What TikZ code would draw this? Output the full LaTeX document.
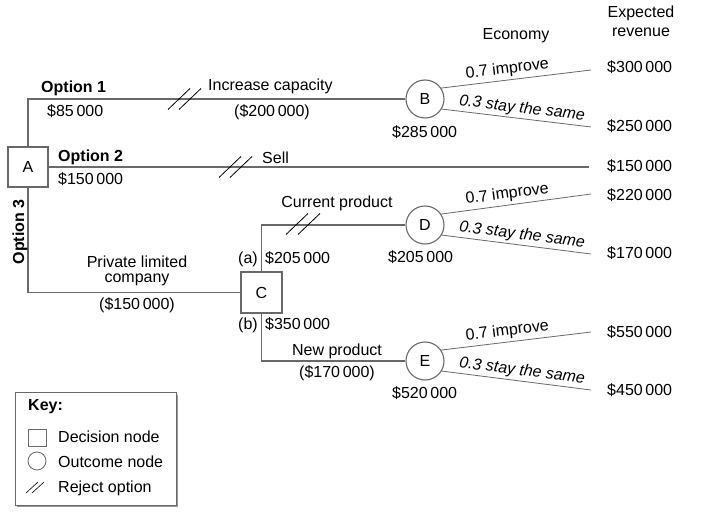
\documentclass[tikz,border=0pt]{standalone}
\usepackage{fontspec}
\setmainfont{Liberation Sans}
\definecolor{linegray}{RGB}{105,105,105}
\definecolor{shadowgray}{RGB}{150,150,150}
\begin{document}
\begin{tikzpicture}[x=1pt,y=-1pt,
  every node/.style={font=\fontsize{16}{19}\selectfont, inner sep=0pt},
  ln/.style={draw=linegray, line width=1.1pt},
  decbox/.style={draw=linegray, line width=1.1pt, minimum width=40pt, minimum height=40pt, fill=white},
  outc/.style={circle, draw=linegray, line width=1.1pt, minimum size=38pt, fill=white},
  lab/.style={anchor=base west},
  labr/.style={anchor=base east},
  labc/.style={anchor=base},
  boldlab/.style={anchor=base west, font=\fontsize{16}{19}\selectfont\bfseries},
  rejline/.style={draw=black, line width=0.8pt},
  probup/.style={sloped, above, inner sep=3pt},
  probdn/.style={sloped, above, inner sep=2pt, font=\fontsize{16}{19}\selectfont\itshape}
]
\useasboundingbox (0,0) rectangle (714,518);

% nodes
\node[decbox] (A) at (28,167) {A};
\node[decbox, minimum width=41pt, minimum height=41pt] (C) at (261.5,292.5) {C};
\node[outc] (B) at (425,99) {B};
\node[outc] (D) at (425,225) {D};
\node[outc] (E) at (425,361) {E};

\coordinate (b1) at (591,70);
\coordinate (b2) at (591,127);
\coordinate (s2) at (589,167);
\coordinate (d1) at (591,194);
\coordinate (d2) at (591,254);
\coordinate (e1) at (591,332);
\coordinate (e2) at (591,390);

% connectors
\draw[ln] (A.north) |- (B.west);
\draw[ln] (A.east) -- (s2);
\draw[ln] (A.south) |- (C.west);
\draw[ln] (C.north) |- (D.west);
\draw[ln] (C.south) |- (E.west);

\draw[ln, line width=0.8pt] (B.34) -- node[probup, pos=0.45] {0.7 improve} (b1);
\draw[ln, line width=0.8pt] (B.-31) -- node[probdn, pos=0.53] {0.3 stay the same} (b2);
\draw[ln, line width=0.8pt] (D.34) -- node[probup, pos=0.45] {0.7 improve} (d1);
\draw[ln, line width=0.8pt] (D.-31) -- node[probdn, pos=0.53] {0.3 stay the same} (d2);
\draw[ln, line width=0.8pt] (E.34) -- node[probup, pos=0.45] {0.7 improve} (e1);
\draw[ln, line width=0.8pt] (E.-31) -- node[probdn, pos=0.53] {0.3 stay the same} (e2);

% reject marks
\foreach \cx/\cy in {179/99, 190/99, 230/167, 241/167, 297/224, 309/224}
  \draw[rejline] (\cx-11,\cy+10.5) -- (\cx+11,\cy-10.5);

% headers
\node[labc] (hexp) at (641,18) {Expected};
\node[labc] (hrev) at (641,37) {revenue};
\node[labc] (heco) at (516,40) {Economy};

% option labels
\node[boldlab] (o1) at (41,93) {Option 1};
\node[lab] (o1v) at (47,117) {\$85\,000};
\node[lab] (ic) at (208,91) {Increase capacity};
\node[labc] (icv) at (272,117) {(\$200\,000)};
\node[boldlab] (o2) at (58,162) {Option 2};
\node[lab] (o2v) at (58,185) {\$150\,000};
\node[lab] (sell) at (262,164) {Sell};
\node[anchor=base, rotate=90, font=\fontsize{16}{19}\selectfont\bfseries] (o3) at (24,232) {Option 3};
\node[labc] (plc1) at (137,268) {Private limited};
\node[labc] (plc2) at (137,283) {company};
\node[labc] (plcv) at (137,309) {(\$150\,000)};
\node[labr] (la) at (258,264) {(a)};
\node[lab] (lav) at (265,264) {\$205\,000};
\node[labr] (lb) at (258,329) {(b)};
\node[lab] (lbv) at (265,329) {\$350\,000};
\node[labc] (cp) at (337,208) {Current product};
\node[labc] (np) at (337,355) {New product};
\node[labc] (npv) at (337,377) {(\$170\,000)};
\node[lab] (bv) at (392,138) {\$285\,000};
\node[lab] (dv) at (388,263) {\$205\,000};
\node[lab] (ev) at (392,398) {\$520\,000};

% expected revenues
\node[lab] (r1) at (607,73) {\$300\,000};
\node[lab] (r2) at (607,132) {\$250\,000};
\node[lab] (r3) at (607,172) {\$150\,000};
\node[lab] (r4) at (607,201) {\$220\,000};
\node[lab] (r5) at (607,259) {\$170\,000};
\node[lab] (r6) at (607,337) {\$550\,000};
\node[lab] (r7) at (607,395) {\$450\,000};

% key
\fill[shadowgray] (16.5,394.5) rectangle (177.5,507);
\draw[draw=linegray, line width=0.8pt, fill=white] (15,392) rectangle (176,505);
\node[boldlab] (key) at (28,410) {Key:};
\draw[draw=linegray, line width=0.8pt] (28,429) rectangle (46,446);
\node[lab] (kd) at (58,442) {Decision node};
\draw[draw=linegray, line width=0.8pt] (37,461) circle (9);
\node[lab] (ko) at (58,467) {Outcome node};
\foreach \cx in {32,38}
  \draw[rejline, line width=0.6pt] (\cx-6,493) -- (\cx+6,482);
\node[lab] (kr) at (58,492) {Reject option};
\end{tikzpicture}
\end{document}
